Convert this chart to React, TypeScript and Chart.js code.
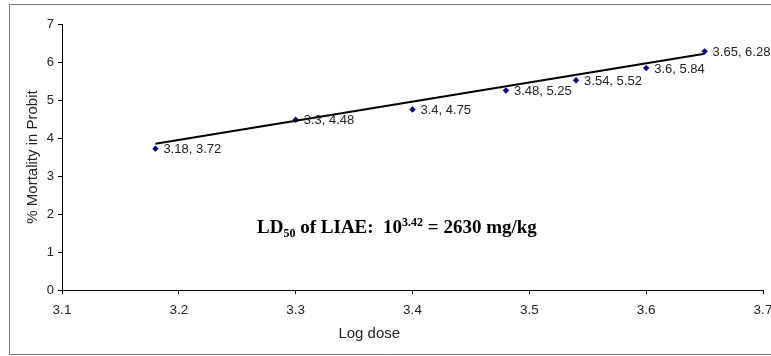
import React, { useEffect, useRef } from "react";
import { Chart, registerables } from "chart.js";

Chart.register(...registerables);

const logDose = [3.18, 3.3, 3.4, 3.48, 3.54, 3.6, 3.65];
const probit = [3.72, 4.48, 4.75, 5.25, 5.52, 5.84, 6.28];
const trendX = [3.18, 3.65];
const trendY = [3.85, 6.22];
const xTitle = "Log dose";
const yTitle = "% Mortality in Probit";

const labelPlugin = {
  id: "pointLabels",
  afterDatasetsDraw(chart: any) {
    const { ctx } = chart;
    const meta = chart.getDatasetMeta(1);
    ctx.save();
    ctx.font = "13px 'Liberation Sans', Arial, sans-serif";
    ctx.fillStyle = "#222";
    ctx.textAlign = "left";
    ctx.textBaseline = "middle";
    meta.data.forEach((el: any, i: number) => {
      ctx.fillText(`${logDose[i]}, ${probit[i]}`, el.x + 8, el.y + 1);
    });
    // x axis title (offset left of centre, as in the reference)
    ctx.font = "15px 'Liberation Sans', Arial, sans-serif";
    ctx.textAlign = "center";
    ctx.fillText(xTitle, chart.scales.x.getPixelForValue(3.363), chart.scales.x.bottom - 22);
    // annotation
    ctx.textAlign = "left";
    const x0 = chart.scales.x.getPixelForValue(3.267);
    const y0 = chart.scales.y.getPixelForValue(1.5);
    let x = x0;
    const big = "bold 19px 'Liberation Serif', 'Times New Roman', serif";
    const small = "bold 12px 'Liberation Serif', 'Times New Roman', serif";
    ctx.fillStyle = "#000";
    ctx.textBaseline = "alphabetic";
    const parts: [string, string, number][] = [
      ["LD", big, 0],
      ["50", small, 4],
      [" of LIAE:  10", big, 0],
      ["3.42", small, -7],
      [" = 2630 mg/kg", big, 0],
    ];
    parts.forEach(([t, f, dy]) => {
      ctx.font = f;
      ctx.fillText(t, x, y0 + dy);
      x += ctx.measureText(t).width;
    });
    ctx.restore();
  },
};

const framePlugin = {
  id: "frame",
  beforeDraw(chart: any) {
    const { ctx } = chart;
    ctx.save();
    ctx.fillStyle = "#fff";
    ctx.fillRect(0, 0, chart.width, chart.height);
    ctx.strokeStyle = "#777";
    ctx.lineWidth = 1;
    ctx.beginPath();
    ctx.moveTo(771, 4.5);
    ctx.lineTo(9.5, 4.5);
    ctx.lineTo(9.5, 354.5);
    ctx.lineTo(771, 354.5);
    ctx.stroke();
    ctx.restore();
  },
};

export default function App() {
  const ref = useRef<HTMLCanvasElement>(null);
  useEffect(() => {
    if (!ref.current) return;
    const chart = new Chart(ref.current, {
      type: "scatter",
      data: {
        datasets: [
          {
            type: "line",
            data: trendX.map((x, i) => ({ x, y: trendY[i] })),
            borderColor: "#000",
            borderWidth: 2,
            pointRadius: 0,
            fill: false,
          },
          {
            data: logDose.map((x, i) => ({ x, y: probit[i] })),
            pointStyle: "rectRot",
            pointRadius: 3.2,
            backgroundColor: "#000080",
            borderColor: "#000080",
            borderWidth: 0,
          },
        ],
      },
      options: {
        animation: false,
        responsive: false,
        devicePixelRatio: 1,
        layout: { padding: { top: 24, right: 8, left: 0, bottom: 0 } },
        plugins: { legend: { display: false }, tooltip: { enabled: false } },
        scales: {
          x: {
            type: "linear",
            min: 3.1,
            max: 3.7,
            afterFit(s: any) {
              s.height = 66;
              s.paddingLeft = 0;
              s.paddingRight = 0;
            },
            ticks: {
              stepSize: 0.1,
              color: "#222",
              font: { family: "'Liberation Sans', Arial", size: 13.5 },
              padding: 8,
              callback: (v: any) => Number(v).toFixed(1),
            },
            grid: { display: true, drawOnChartArea: false, drawTicks: true, tickLength: 4, color: "#000" },
            border: { display: true, color: "#000", width: 1 },
          },
          y: {
            min: 0,
            max: 7,
            afterFit(s: any) {
              s.width = 62;
              s.paddingTop = 0;
              s.paddingBottom = 0;
            },
            ticks: {
              stepSize: 1,
              color: "#222",
              font: { family: "'Liberation Sans', Arial", size: 13 },
              padding: 4,
            },
            grid: { display: true, drawOnChartArea: false, drawTicks: true, tickLength: 4, color: "#000" },
            border: { display: true, color: "#000", width: 1 },
            title: {
              display: true,
              text: yTitle,
              color: "#222",
              font: { family: "'Liberation Sans', Arial", size: 15 },
              padding: { top: 24, bottom: 0 },
            },
          },
        },
      },
      plugins: [framePlugin, labelPlugin],
    } as any);
    return () => chart.destroy();
  }, []);
  return (
    <div style={{ position: "fixed", left: 0, top: 0, width: 771, height: 356 }}>
      <canvas ref={ref} width={771} height={356} style={{ display: "block" }} />
    </div>
  );
}
